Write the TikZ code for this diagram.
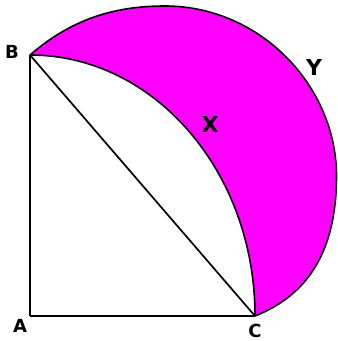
\documentclass[tikz,border=0pt]{standalone}
\usepackage{fontspec}
\setmainfont{DejaVu Sans}
\definecolor{lune}{HTML}{FF00FF}
\tikzset{
  edge/.style={draw=black, line width=1.7pt},
  lbl/.style={font=\fontsize{18}{18}\selectfont\bfseries, inner sep=0pt},
  biglbl/.style={font=\fontsize{22}{22}\selectfont\bfseries, inner sep=0pt}
}
\begin{document}
\begin{tikzpicture}[x=1pt,y=1pt]
\useasboundingbox (0,0) rectangle (338,341);
\coordinate (A) at (30,25);
\coordinate (B) at (30,286);
\coordinate (C) at (255,25);
% shaded lune
\path[fill=lune, draw=black, line width=1.6pt, line join=round]
  (B) .. controls (75,325) and (120,335) .. (165,335)
      .. controls (260,335) and (336.5,255) .. (336.5,165)
      .. controls (336.5,90) and (308,46) .. (C)
      arc[start angle=0, end angle=90, x radius=225, y radius=261]
  -- cycle;
% triangle
\draw[edge] (A) -- (B);
\draw[edge] (A) -- (C);
\draw[edge] (B) -- (C);
% labels
\node[lbl] (lA) at (20,15) {A};
\node[lbl] (lB) at (12,289) {B};
\node[lbl] (lC) at (255,10) {C};
\node[biglbl] (lX) at (210,217) {X};
\node[biglbl] (lY) at (314,274) {Y};
\end{tikzpicture}
\end{document}
